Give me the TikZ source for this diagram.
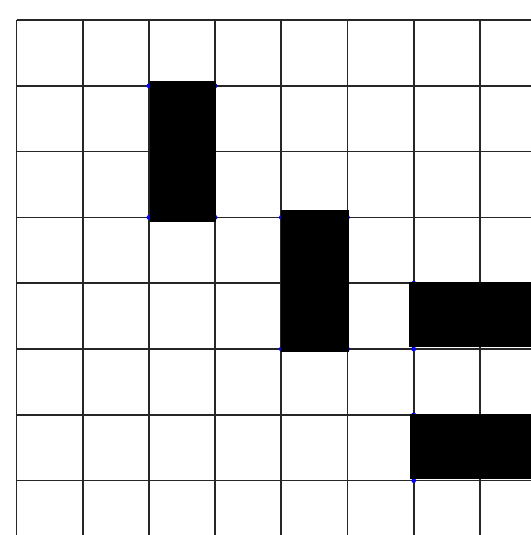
\documentclass[tikz,border=0pt]{standalone}
\begin{document}
\begin{tikzpicture}[x=1pt,y=-1pt,
  gridline/.style={line width=1.7pt,black!85},
  block/.style={fill=black,draw=none},
  corner/.style={fill=blue,draw=none}]
\useasboundingbox (0,0) rectangle (530,535);
\fill[white] (0,0) rectangle (530,535);
% grid
\foreach \i in {0,...,7}{
  \draw[gridline] ({16.5+66.2*\i},20) -- ({16.5+66.2*\i},536);
  \draw[gridline] (16.5,{20+65.8*\i}) -- (531,{20+65.8*\i});
}
% corner dots
\foreach \p in {(149,85.8),(215.1,85.8),(149,217.4),(215.1,217.4),
                (281.3,217.4),(347.5,217.4),(281.3,349),(347.5,349),
                (413.7,283.2),(413.7,349),(413.7,414.8),(413.7,480.6)}{
  \fill[corner] \p circle (2.4);
}
% blocks
\fill[block] (150,81) rectangle (215.5,222);
\fill[block] (281,210) rectangle (348.5,351.5);
\fill[block] (408.5,282) rectangle (531,347);
\fill[block] (410,413.5) rectangle (531,478.5);
\end{tikzpicture}
\end{document}
